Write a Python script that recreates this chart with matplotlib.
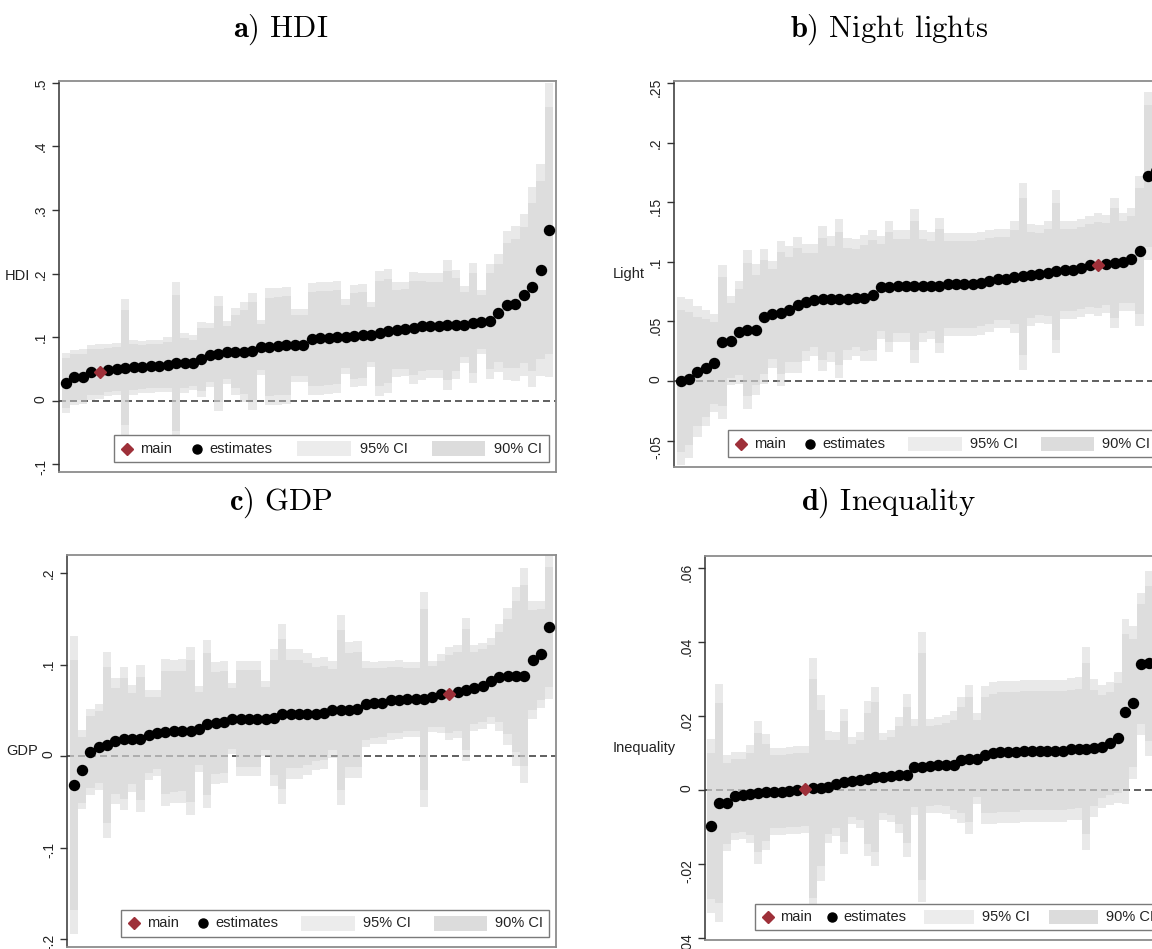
import numpy as np
import matplotlib
matplotlib.use('Agg')
import matplotlib.pyplot as plt
import matplotlib.patches as patches

plt.rcParams['font.family'] = ['Liberation Sans', 'DejaVu Sans']
plt.rcParams['mathtext.fontset'] = 'cm'

# point estimates sorted by size, and their standard errors
hdi_est = [0.028, 0.037, 0.038, 0.045, 0.046, 0.048, 0.050, 0.052, 0.053, 0.053,
           0.054, 0.055, 0.057, 0.059, 0.059, 0.060, 0.065, 0.072, 0.074, 0.076,
           0.077, 0.077, 0.078, 0.084, 0.085, 0.086, 0.087, 0.087, 0.087, 0.097,
           0.098, 0.099, 0.100, 0.101, 0.102, 0.103, 0.104, 0.106, 0.110, 0.112,
           0.113, 0.114, 0.117, 0.118, 0.118, 0.119, 0.120, 0.120, 0.122, 0.124,
           0.125, 0.138, 0.150, 0.153, 0.167, 0.179, 0.206, 0.268]
hdi_se = [0.024, 0.022, 0.022, 0.022, 0.022, 0.021, 0.021, 0.055, 0.022, 0.021,
          0.021, 0.021, 0.022, 0.065, 0.024, 0.022, 0.030, 0.026, 0.046, 0.025,
          0.035, 0.040, 0.047, 0.022, 0.047, 0.047, 0.047, 0.029, 0.029, 0.045,
          0.045, 0.045, 0.045, 0.030, 0.041, 0.041, 0.026, 0.050, 0.050, 0.038,
          0.038, 0.045, 0.043, 0.042, 0.042, 0.052, 0.044, 0.031, 0.048, 0.026,
          0.046, 0.047, 0.060, 0.062, 0.065, 0.080, 0.085, 0.118]
hdi_main = 5

light_est = [0.000, 0.002, 0.008, 0.011, 0.015, 0.033, 0.034, 0.041, 0.043, 0.043,
             0.054, 0.056, 0.057, 0.060, 0.064, 0.066, 0.068, 0.069, 0.069, 0.069,
             0.069, 0.070, 0.070, 0.072, 0.0785, 0.079, 0.080, 0.080, 0.080, 0.080,
             0.080, 0.080, 0.081, 0.081, 0.081, 0.081, 0.082, 0.084, 0.086, 0.086,
             0.087, 0.088, 0.089, 0.090, 0.091, 0.092, 0.093, 0.093, 0.095, 0.097,
             0.0975, 0.098, 0.099, 0.100, 0.102, 0.109, 0.172, 0.176]
light_se = [0.036, 0.034, 0.028, 0.025, 0.021, 0.033, 0.019, 0.022, 0.034, 0.028,
            0.029, 0.023, 0.031, 0.027, 0.029, 0.025, 0.024, 0.031, 0.027, 0.034,
            0.026, 0.025, 0.027, 0.028, 0.022, 0.028, 0.024, 0.024, 0.033, 0.024,
            0.023, 0.029, 0.022, 0.022, 0.022, 0.022, 0.022, 0.022, 0.021, 0.021,
            0.024, 0.040, 0.022, 0.021, 0.022, 0.035, 0.021, 0.021, 0.021, 0.021,
            0.022, 0.021, 0.028, 0.021, 0.022, 0.032, 0.036, 0.036]
light_main = 51

gdp_est = [-0.032, -0.015, 0.004, 0.010, 0.012, 0.0165, 0.019, 0.019, 0.019, 0.023,
           0.025, 0.026, 0.027, 0.0275, 0.0275, 0.030, 0.035, 0.036, 0.037, 0.041,
           0.041, 0.041, 0.041, 0.041, 0.042, 0.046, 0.046, 0.046, 0.046, 0.046,
           0.047, 0.0505, 0.0505, 0.0505, 0.051, 0.057, 0.058, 0.0585, 0.061, 0.0615,
           0.062, 0.062, 0.062, 0.065, 0.068, 0.068, 0.0705, 0.0725, 0.074, 0.077,
           0.082, 0.086, 0.087, 0.087, 0.088, 0.105, 0.111, 0.141]
gdp_se = [0.083, 0.022, 0.024, 0.024, 0.052, 0.035, 0.040, 0.030, 0.041, 0.025,
          0.024, 0.041, 0.040, 0.040, 0.047, 0.024, 0.047, 0.034, 0.034, 0.020,
          0.032, 0.032, 0.032, 0.021, 0.038, 0.050, 0.036, 0.036, 0.034, 0.031,
          0.031, 0.027, 0.053, 0.038, 0.038, 0.024, 0.023, 0.023, 0.022, 0.022,
          0.021, 0.021, 0.060, 0.020, 0.022, 0.026, 0.026, 0.040, 0.024, 0.024,
          0.024, 0.030, 0.038, 0.050, 0.060, 0.033, 0.030, 0.040]
gdp_main = 46

ineq_est = [-0.0097, -0.0036, -0.0036, -0.0016, -0.0014, -0.0011, -0.0007, -0.0006, -0.0005, -0.0004,
            -0.0002, 0.0000, 0.0002, 0.0005, 0.0006, 0.0009, 0.0016, 0.0023, 0.0025, 0.0027,
            0.0031, 0.0036, 0.0036, 0.0038, 0.0040, 0.0040, 0.0063, 0.0063, 0.0065, 0.0067,
            0.0068, 0.0068, 0.0081, 0.0083, 0.0085, 0.0095, 0.0099, 0.0103, 0.0103, 0.0103,
            0.0106, 0.0106, 0.0106, 0.0106, 0.0106, 0.0106, 0.0110, 0.0112, 0.0112, 0.0114,
            0.0117, 0.0126, 0.0141, 0.0212, 0.0236, 0.0340, 0.0342, 0.0350]
ineq_se = [0.0120, 0.0164, 0.0066, 0.0060, 0.0060, 0.0067, 0.0098, 0.0080, 0.0060, 0.0060,
           0.0060, 0.0060, 0.0060, 0.0180, 0.0128, 0.0077, 0.0072, 0.0100, 0.0060, 0.0066,
           0.0107, 0.0123, 0.0060, 0.0064, 0.0080, 0.0112, 0.0066, 0.0186, 0.0065, 0.0066,
           0.0068, 0.0074, 0.0087, 0.0103, 0.0063, 0.0095, 0.0098, 0.0098, 0.0098, 0.0098,
           0.0098, 0.0098, 0.0098, 0.0098, 0.0098, 0.0098, 0.0098, 0.0098, 0.0140, 0.0095,
           0.0085, 0.0085, 0.0090, 0.0128, 0.0105, 0.0098, 0.0127, 0.0120]
ineq_main = 13

hdi_ticks = [-0.1, 0, 0.1, 0.2, 0.3, 0.4, 0.5]
hdi_ticklabels = ['-.1', '0', '.1', '.2', '.3', '.4', '.5']
light_ticks = [-0.05, 0, 0.05, 0.1, 0.15, 0.2, 0.25]
light_ticklabels = ['-.05', '0', '.05', '.1', '.15', '.2', '.25']
gdp_ticks = [-0.2, -0.1, 0, 0.1, 0.2]
gdp_ticklabels = ['-.2', '-.1', '0', '.1', '.2']
ineq_ticks = [-0.04, -0.02, 0, 0.02, 0.04, 0.06]
ineq_ticklabels = ['-.04', '-.02', '0', '.02', '.04', '.06']

titles = [r'$\mathbf{a)}$ HDI', r'$\mathbf{b)}$ Night lights',
          r'$\mathbf{c)}$ GDP', r'$\mathbf{d)}$ Inequality']
ylabels = ['HDI', 'Light', 'GDP', 'Inequality']
legend_labels = ['main', 'estimates', '95% CI', '90% CI']

z90 = 1.645
z95 = 1.96
RED = '#9e3039'
BAND = '#cfcfcf'
W, H = 1152, 949


def px_axes(fig, left, right, top, bottom):
    return fig.add_axes([left / W, 1 - bottom / H, (right - left) / W, (bottom - top) / H])


def draw_panel(ax, est, se, main, ticks, ticklabels, ylim, ylabel):
    est = np.array(est)
    se = np.array(se)
    n = len(est)
    rank = np.arange(1, n + 1)
    # each spec gets a bar of width one, drawn as one stepped band
    xs = np.column_stack([rank - 0.5, rank + 0.5]).ravel()
    for z in (z95, z90):
        lo = np.repeat(est - z * se, 2)
        hi = np.repeat(est + z * se, 2)
        ax.fill_between(xs, lo, hi, color=BAND, alpha=0.45, lw=0, zorder=2)
    ax.axhline(0, color='#444444', lw=1.2, dashes=(4.2, 2.4), zorder=1)
    other = rank != main
    ax.plot(rank[other], est[other], 'o', color='black', ms=7.2, zorder=3)
    ax.plot([main], [est[main - 1]], 'D', color=RED, ms=6.5, zorder=4)

    ax.set_xlim(0.2, n + 0.8)
    ax.set_ylim(*ylim)
    ax.set_xticks([])
    ax.set_yticks(ticks)
    ax.set_yticklabels(ticklabels)
    ax.tick_params(axis='y', labelrotation=90, length=5, width=1, color='#333333',
                   labelsize=10, pad=3, labelcolor='#222222')
    ax.set_ylabel(ylabel, rotation=0, ha='right', va='center', fontsize=10.5,
                  labelpad=3, color='#222222')
    for side in ['top', 'right', 'bottom']:
        ax.spines[side].set_color('#8c8c8c')
        ax.spines[side].set_linewidth(1.3)
    ax.spines['left'].set_color('#333333')
    ax.spines['left'].set_linewidth(1.1)

    # Stata-style legend box inside the plot region
    ax.add_patch(patches.Rectangle((0.11, 0.025), 0.875, 0.07, transform=ax.transAxes,
                                   fc='white', ec='#7a7a7a', lw=1, zorder=5))
    y = 0.06
    ax.plot([0.137], [y], 'D', color=RED, ms=6.5, transform=ax.transAxes, zorder=6)
    ax.plot([0.278], [y], 'o', color='black', ms=6.5, transform=ax.transAxes, zorder=6)
    ax.add_patch(patches.Rectangle((0.478, y - 0.019), 0.11, 0.038, transform=ax.transAxes,
                                   fc='#ececec', lw=0, zorder=6))
    ax.add_patch(patches.Rectangle((0.75, y - 0.019), 0.108, 0.038, transform=ax.transAxes,
                                   fc='#dcdcdc', lw=0, zorder=6))
    for xt, lab in zip([0.163, 0.303, 0.605, 0.875], legend_labels):
        ax.text(xt, y, lab, transform=ax.transAxes, ha='left', va='center',
                fontsize=10.5, color='#222222', zorder=7)


fig = plt.figure(figsize=(W / 100, H / 100), dpi=100)

ax_a = px_axes(fig, 59, 556, 81, 472)
draw_panel(ax_a, hdi_est, hdi_se, hdi_main, hdi_ticks, hdi_ticklabels, (-0.112, 0.503), ylabels[0])
ax_b = px_axes(fig, 674, 1163, 81, 467)
draw_panel(ax_b, light_est, light_se, light_main, light_ticks, light_ticklabels, (-0.0721, 0.2517), ylabels[1])
ax_c = px_axes(fig, 67, 556, 555, 947)
draw_panel(ax_c, gdp_est, gdp_se, gdp_main, gdp_ticks, gdp_ticklabels, (-0.2087, 0.2197), ylabels[2])
ax_d = px_axes(fig, 705, 1163, 556, 940)
draw_panel(ax_d, ineq_est, ineq_se, ineq_main, ineq_ticks, ineq_ticklabels, (-0.0405, 0.0632), ylabels[3])

for (tx, ty), title in zip([(281, 30), (889, 30), (281, 503), (889, 503)], titles):
    fig.text(tx / W, 1 - ty / H, title, ha='center', va='center', fontsize=22,
             family='cmr10')

fig.savefig('out.png', dpi=100)
